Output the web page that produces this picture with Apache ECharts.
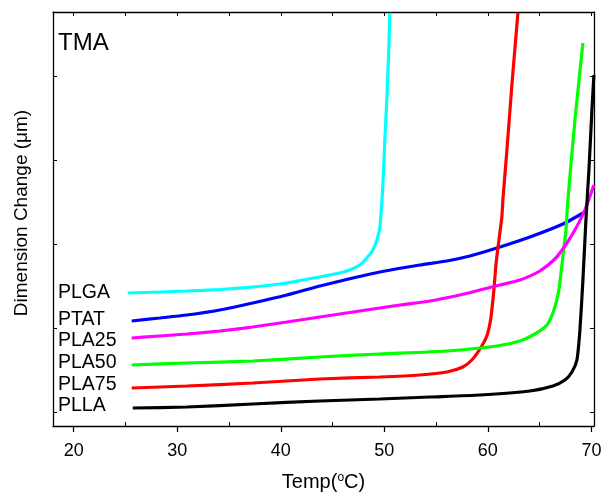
<!DOCTYPE html>
<html>
<head>
<meta charset="utf-8">
<script src="https://cdn.jsdelivr.net/npm/echarts@6/dist/echarts.min.js"></script>
<style>
html,body{margin:0;padding:0;background:#fff;}
#chart{width:601px;height:492px;}
</style>
</head>
<body>
<div id="chart"></div>
<script>
// Temperature (°C) and dimension change (arbitrary µm units)
const seriesNames = ['PLGA', 'PTAT', 'PLA25', 'PLA50', 'PLA75', 'PLLA'];
const seriesColors = ['#00FFFF', '#0000FF', '#FF00FF', '#00FF00', '#FF0000', '#000000'];

const PLGA = [[25.22,133],[28.31,134],[30.92,135],[34.11,136.5],[37.29,139],[39.90,142],[42.13,146],[44.73,151],[46.38,155],[47.63,161],[48.31,168],[48.89,176],[49.28,186],[49.57,199],[49.86,241],[50.05,286],[50.24,326],[50.43,376],[50.53,413]];
const PTAT = [[25.60,105],[28.31,108],[30.92,111],[34.11,116],[37.29,123],[40.58,131],[43.77,140],[46.96,148],[49.57,154],[53.43,161],[56.04,165],[58.26,170],[60.87,178],[64.06,189],[67.25,202],[69.37,214]];
const PLA25 = [[25.60,88],[28.31,90],[30.92,92],[34.11,95],[37.29,99],[40.58,104],[43.77,109],[47.63,115],[51.50,121],[54.40,125],[57.29,131],[59.23,136],[61.16,141],[63.09,146],[65.02,155],[66.47,167],[67.44,180],[68.40,196],[69.37,216],[70.24,241]];
const PLA50 = [[25.60,61],[30.92,63],[37.29,65],[43.77,69],[49.57,72],[56.04,75],[60.87,80],[63.09,85],[64.54,92],[65.70,101],[66.38,116],[66.86,136],[67.15,161],[67.54,196],[67.73,226],[68.41,306],[69.18,383]];
const PLA75 = [[25.60,38],[30.92,40],[37.29,43],[43.77,47],[49.57,49],[53.43,51],[56.04,54],[57.58,59],[58.45,66],[59.23,77],[59.90,90],[60.29,108],[60.58,136],[60.77,160],[60.97,178],[61.35,209],[61.45,226],[61.84,276],[62.32,341],[62.90,413]];
const PLLA = [[25.70,18],[30.92,19],[37.29,22],[43.77,25],[49.57,27],[54.40,29],[59.23,31],[64.06,35],[66.28,40],[67.44,46],[68.12,54],[68.60,66],[68.89,96],[69.18,146],[69.47,206],[69.76,256],[70.05,316],[70.24,351]];
const seriesData = [PLGA, PTAT, PLA25, PLA50, PLA75, PLLA];

const xMajorTicks = [20, 30, 40, 50, 60, 70];
const xMinorTicks = [25, 35, 45, 55, 65];
const xTopTicks = [20, 25, 30, 35, 40, 45, 50, 55, 60, 65, 70];
const yTicks = [14, 98, 182, 266, 350];

const chart = echarts.init(document.getElementById('chart'), null, {renderer: 'canvas'});

const font = 'Liberation Sans, Arial, sans-serif';
const axisLine = {show: true, lineStyle: {color: '#000', width: 1.3}};

const drawOrder = [1, 0, 4, 3, 2, 5];
const series = drawOrder.map(i => ({
  name: seriesNames[i],
  type: 'line',
  data: seriesData[i],
  showSymbol: false,
  symbol: 'none',
  smooth: 0.2,
  clip: true,
  lineStyle: {color: seriesColors[i], width: 3.2},
  itemStyle: {color: seriesColors[i]},
  animation: false
}));

const labelY = [293, 320, 341, 363, 385, 406];
const graphics = [{
  type: 'text', left: 58, top: 31,
  style: {text: 'TMA', font: '24px ' + font, fill: '#000'}
}].concat(seriesNames.map((n, i) => ({
  type: 'text', x: 58, y: labelY[i],
  style: {text: n, font: '19.5px ' + font, fill: '#000', verticalAlign: 'middle', align: 'left'}
})));

chart.setOption({
  animation: false,
  backgroundColor: '#fff',
  grid: {left: 53, top: 12, right: 7, bottom: 66, containLabel: false, outerBoundsMode: 'none'},
  graphic: graphics,
  xAxis: [
    {
      type: 'value', position: 'bottom', min: 18, max: 70.25,
      axisLine: axisLine,
      splitLine: {show: false},
      axisTick: {show: true, inside: false, length: 6, customValues: xMajorTicks, lineStyle: {color: '#000', width: 1.2}},
      axisLabel: {show: true, customValues: xMajorTicks, fontSize: 18, fontFamily: font, color: '#000', margin: 16},
      name: 'Temp({s|o}C)', nameLocation: 'middle', nameGap: 46,
      nameTextStyle: {fontSize: 20, fontFamily: font, color: '#000',
        rich: {s: {fontSize: 12, fontFamily: font, color: '#000', padding: [0, 0, 9, 0]}}}
    },
    {
      type: 'value', position: 'bottom', min: 18, max: 70.25,
      axisLine: {show: false},
      splitLine: {show: false},
      axisTick: {show: true, inside: true, length: 4, customValues: xMinorTicks, lineStyle: {color: '#000', width: 1}},
      axisLabel: {show: false}
    },
    {
      type: 'value', position: 'top', min: 18, max: 70.25,
      axisLine: axisLine,
      splitLine: {show: false},
      axisTick: {show: true, inside: true, length: 4, customValues: xTopTicks, lineStyle: {color: '#000', width: 1}},
      axisLabel: {show: false}
    }
  ],
  yAxis: [
    {
      type: 'value', position: 'left', min: 0, max: 414,
      axisLine: axisLine,
      splitLine: {show: false},
      axisTick: {show: true, inside: true, length: 4, customValues: yTicks, lineStyle: {color: '#000', width: 1}},
      axisLabel: {show: false},
      name: 'Dimension Change (μm)', nameLocation: 'middle', nameGap: 22, nameRotate: 90,
      nameTextStyle: {fontSize: 19, fontFamily: font, color: '#000', padding: [0, 0, 0, 12]}
    },
    {
      type: 'value', position: 'right', min: 0, max: 414,
      axisLine: axisLine,
      splitLine: {show: false},
      axisTick: {show: true, inside: true, length: 4, customValues: yTicks, lineStyle: {color: '#000', width: 1}},
      axisLabel: {show: false}
    }
  ],
  series: series
});
</script>
</body>
</html>
